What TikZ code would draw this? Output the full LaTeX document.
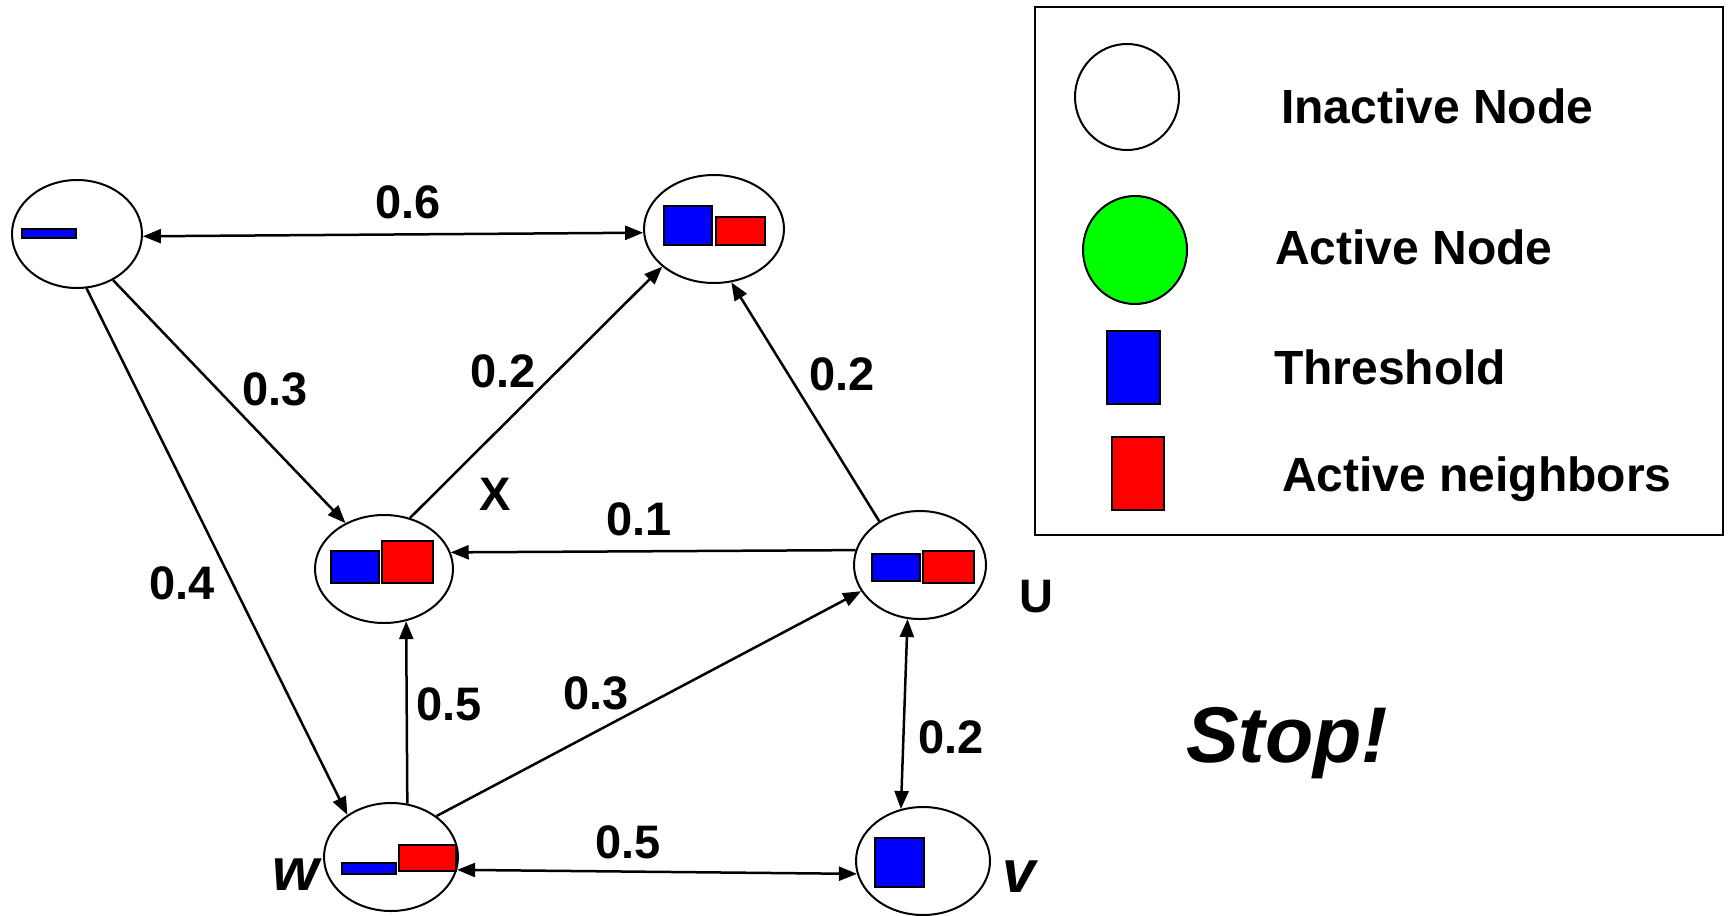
\documentclass[tikz,border=0pt]{standalone}
\usepackage{fontspec}
\setmainfont{Liberation Sans}
\usepackage{tikz}
\usetikzlibrary{shapes.geometric}
\usetikzlibrary{arrows.meta}
\definecolor{thrblue}{RGB}{0,0,255}
\definecolor{nbred}{RGB}{255,0,0}
\definecolor{actgreen}{RGB}{0,255,0}
\tikzset{
  vertex/.style={ellipse, draw, line width=2pt, minimum height=108pt, inner sep=0pt},
  weight/.style={font=\fontsize{47}{50}\selectfont\bfseries, inner sep=0pt},
  keytext/.style={font=\fontsize{48}{52}\selectfont\bfseries, inner sep=0pt, anchor=base west},
  thr/.style={draw, line width=2pt, fill=thrblue},
  nbr/.style={draw, line width=2pt, fill=nbred},
  edge/.style={line width=2.5pt},
}

\begin{document}
\begin{tikzpicture}[x=1pt, y=-1pt, >={Triangle[length=18pt,width=14pt]}]
\useasboundingbox (0,0) rectangle (1731,915);

% nodes of the graph
\draw (77,234) node[vertex, minimum width=130pt] (a) {};
\draw (714,229) node[vertex, minimum width=140pt] (b) {};
\draw (384,569) node[vertex, minimum width=138pt] (x) {};
\draw (920,565) node[vertex, minimum width=132pt] (u) {};
\draw (391,857) node[vertex, minimum width=134pt] (w) {};
\draw (923,861) node[vertex, minimum width=134pt] (v) {};

% threshold and active neighbours
\draw[thr] (22,229) rectangle (76,238);
\draw[thr] (664,206) rectangle (712,245);
\draw[nbr] (716,217) rectangle (765,245);
\draw[thr] (331,551) rectangle (379,583);
\draw[nbr] (382,541) rectangle (433,583);
\draw[thr] (872,554) rectangle (920,581);
\draw[nbr] (923,551) rectangle (974,583);
\draw[thr] (342,863) rectangle (396,874);
\draw[nbr] (399,845) rectangle (456,871);
\draw[thr] (875,838) rectangle (924,887);

% edges
\draw[edge, <->] (a.-2) -- (b.183);
\draw[edge, ->] (a.-52) -- (x.130);
\draw[edge, ->] (a.-80) -- (w.136);
\draw[edge, ->] (x.63) -- (b.216);
\draw[edge, ->] (u.133) -- (b.-72);
\draw[edge, ->] (u.167) -- (x.14);
\draw[edge, ->] (w.73) -- (x.-67);
\draw[edge, ->] (w.42) -- (u.204);
\draw[edge, <->] (u.257) -- (v.113);
\draw[edge, <->] (w.-11) -- (v.191);

% weights
\draw (408,202) node[weight] (l06) {0.6};
\draw (275,389) node[weight] (l03a) {0.3};
\draw (503,371) node[weight] (l02a) {0.2};
\draw (842,374) node[weight] (l02b) {0.2};
\draw (639,519) node[weight] (l01) {0.1};
\draw (182,583) node[weight] (l04) {0.4};
\draw (449,704) node[weight] (l05a) {0.5};
\draw (596,693) node[weight] (l03b) {0.3};
\draw (951,737) node[weight] (l02c) {0.2};
\draw (628,842) node[weight] (l05b) {0.5};

% names of the nodes
\draw (495,494) node[weight] (nx) {X};
\draw (1036,597) node[weight] (nu) {U};
\draw (296,875) node[font=\fontsize{60}{64}\selectfont\bfseries\itshape, inner sep=0pt] (nw) {w};
\draw (1019,877) node[font=\fontsize{60}{64}\selectfont\bfseries\itshape, inner sep=0pt] (nv) {v};

\draw (1186,762) node[font=\fontsize{79}{82}\selectfont\bfseries\itshape, inner sep=0pt, anchor=base west] (stop) {Stop!};

% legend
\draw[line width=2.5pt] (1035,7) rectangle (1723,535);
\draw (1127,97) node[vertex, minimum width=104pt, minimum height=106pt] (kinact) {};
\draw (1135,250) node[vertex, fill=actgreen, minimum width=104pt, minimum height=108pt] (kact) {};
\draw[thr] (1107,331) rectangle (1160,404);
\draw[nbr] (1112,437) rectangle (1164,510);
\draw (1281,124) node[keytext] (tinact) {Inactive Node};
\draw (1275,264) node[keytext] (tact) {Active Node};
\draw (1274,384) node[keytext] (tthr) {Threshold};
\draw (1282,491) node[keytext] (tnbr) {Active neighbors};
\end{tikzpicture}
\end{document}
